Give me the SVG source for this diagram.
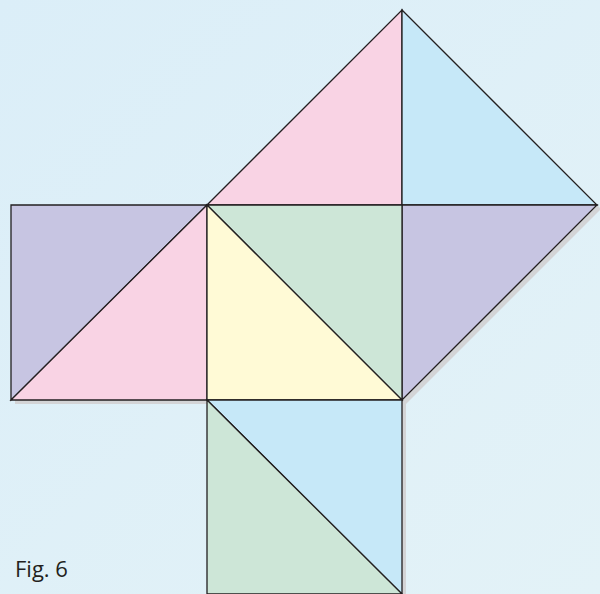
<svg xmlns="http://www.w3.org/2000/svg" width="600" height="594" viewBox="0 0 600 594">
<defs>
<linearGradient id="bg" x1="0" y1="0" x2="1" y2="1">
<stop offset="0" stop-color="#dbeef8"/>
<stop offset="1" stop-color="#e3f2f7"/>
</linearGradient>
<style>
.t{stroke:#231f20;stroke-width:1.3;stroke-linejoin:miter}
.pu{fill:#c7c5e2}.pk{fill:#f9d3e4}.bl{fill:#c6e8f8}.gr{fill:#cde6d7}.ye{fill:#fffad6}
.lbl{font-family:"Open Sans","Noto Sans",sans-serif;font-size:22px;fill:#231f20}
</style>
</defs>
<rect width="600" height="594" fill="url(#bg)"/>
<polygon points="11,205 207,205 402,10 597,205 402,400 402,594 207,594 207,400 11,400" fill="#d3d4d6" transform="translate(4,4)"/>
<g id="left-square">
<polygon class="t pu" points="11,205 207,205 11,400"/>
<polygon class="t pk" points="207,205 207,400 11,400"/>
</g>
<g id="top-square">
<polygon class="t pk" points="207,205 402,10 402,205"/>
<polygon class="t bl" points="402,10 597,205 402,205"/>
<polygon class="t pu" points="402,205 597,205 402,400"/>
<polygon class="t gr" points="207,205 402,205 402,400"/>
</g>
<g id="center-triangle">
<polygon class="t ye" points="207,205 402,400 207,400"/>
</g>
<g id="bottom-square">
<polygon class="t bl" points="207,400 402,400 402,594"/>
<polygon class="t gr" points="207,400 402,594 207,594"/>
</g>
<text class="lbl" x="15" y="577">Fig. 6</text>
</svg>
